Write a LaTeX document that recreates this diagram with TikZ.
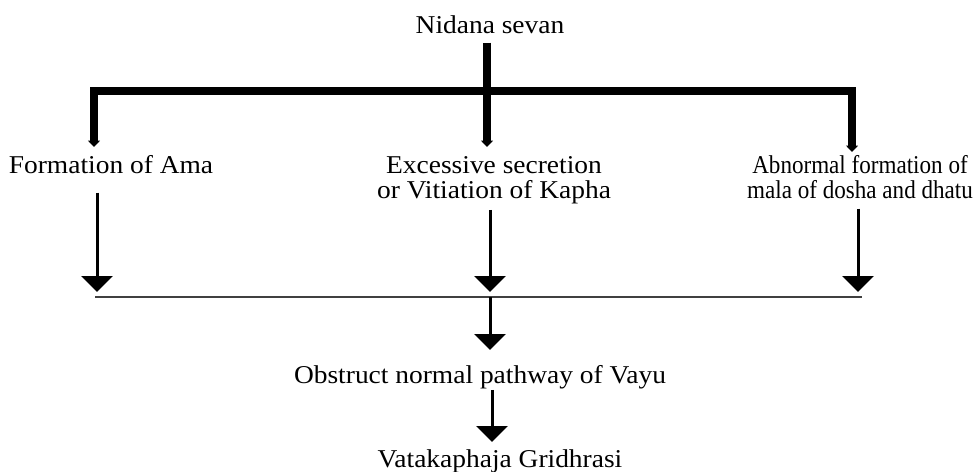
\documentclass[tikz,border=0pt]{standalone}
\usepackage{fontspec}
\setmainfont{Liberation Serif}[FakeStretch=1.07]
\newfontfamily\narrowserif{Liberation Serif}[FakeStretch=0.9]
\usetikzlibrary{arrows.meta}

\begin{document}
\begin{tikzpicture}[x=0.02cm, y=-0.02cm,
        txt/.style={inner sep=0pt, anchor=base, align=center, font=\fontsize{14.6}{14.2}\selectfont},
        thickbar/.style={line width=0.16cm, -{Triangle[width=0.24cm, length=0.13cm]}},
        thinarrow/.style={line width=0.06cm, -{Triangle[width=0.62cm, length=0.32cm]}}]
        \useasboundingbox (0,0) rectangle (976,471);

        \node[txt] (nidana) at (490,33) {Nidana sevan};
        \node[txt] (ama) at (111,173) {Formation of Ama};
        \node[txt] (kapha) at (494,198) {Excessive secretion\\or Vitiation of Kapha};
        \node[txt, font=\fontsize{14.6}{14.2}\narrowserif] (mala) at (860,198) {Abnormal formation of\\mala of dosha and dhatu};
        \node[txt] (vayu) at (480,383) {Obstruct normal pathway of Vayu};
        \node[txt] (gridh) at (500,467) {Vatakaphaja Gridhrasi};

        \coordinate (barL) at (94,91);
        \coordinate (barR) at (852,91);
        \coordinate (tipA) at (94,147);
        \coordinate (tipK) at (487,147);
        \coordinate (tipM) at (852,152);
        \coordinate (joinL) at (95,297);
        \coordinate (joinR) at (862,297);
        \coordinate (downA) at (97,292);
        \coordinate (downK) at (490,292);
        \coordinate (downM) at (858,292);
        \coordinate (tipV) at (490,350);
        \coordinate (tipG) at (492,442);

        % split from the cause
        \draw[thickbar, shorten <=0.18cm] (tipK |- nidana.south) -- (tipK);
        \draw[thickbar, {Triangle[width=0.24cm, length=0.13cm]}-{Triangle[width=0.24cm, length=0.13cm]}] (tipA) -- (barL) -- (barR) -- (tipM);

        % join
        \draw[thinarrow, shorten <=0.38cm] (downA |- ama.south) -- (downA);
        \draw[thinarrow, shorten <=0.12cm] (downK |- kapha.south) -- (downK);
        \draw[thinarrow, shorten <=0.2cm] (downM |- mala.south) -- (downM);
        \draw[line width=0.05cm, black!75] (joinL) -- (joinR);

        \draw[thinarrow] (tipV |- joinL) -- (tipV);
        \draw[thinarrow, shorten <=0.02cm] (tipG |- vayu.south) -- (tipG);
    \end{tikzpicture}
\end{document}
